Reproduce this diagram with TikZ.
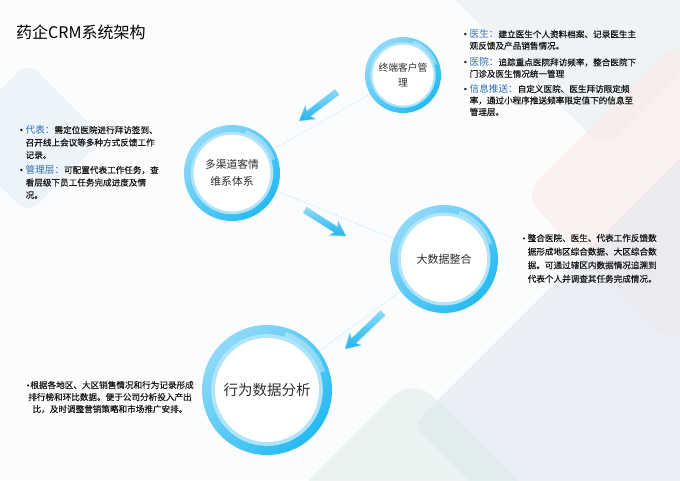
\documentclass[tikz,border=0pt]{standalone}
\usepackage{fontspec}
\setmainfont{Noto Sans CJK SC}
\newfontfamily\crmbodyf[FakeBold=0.35]{Noto Sans CJK SC}
\newfontfamily\crmdejavu{DejaVu Sans}
\usepackage{array}
\usetikzlibrary{calc}
\definecolor{bgbase}{HTML}{FBFCFE}
\definecolor{bgblue}{HTML}{DFECF8}
\definecolor{bgteal}{HTML}{DBEAE8}
\definecolor{bgpink}{HTML}{FDE8E6}
\definecolor{bggray}{HTML}{E5ECEE}
\definecolor{bgslate}{HTML}{D9E4EE}
\definecolor{ringL}{HTML}{8FD9F8}
\definecolor{ringD}{HTML}{25BAF1}
\definecolor{ringIn}{HTML}{AFE4FA}
\definecolor{lblue}{HTML}{2E6DB4}
\definecolor{bodyc}{HTML}{161616}
\definecolor{ctextc}{HTML}{2E2E2E}
\definecolor{dotc}{HTML}{A4DDF5}
\definecolor{arrL}{HTML}{8ED9F8}
\definecolor{arrD}{HTML}{22B5EE}

\newcommand\crmbul{\makebox[6.5pt][l]{{\crmdejavu\fontsize{8}{8}\selectfont •}}}
\newcommand\crmlbl[1]{{\rmfamily\fontsize{9.6}{11}\selectfont\color{lblue}#1}}
\newcommand\crmring[2]{%
  \shade[top color=ringL, bottom color=ringD, shading angle=45] (#1) circle[radius=#2pt];
  \fill[ringIn] (#1) circle[radius=0.86*#2pt];
  \fill[white] (#1) circle[radius=0.8*#2pt];
  \draw[white, opacity=0.35, line width=0.08*#2pt] ([shift={(72:0.9*#2pt)}]#1) arc[start angle=72, end angle=18, radius=0.9*#2pt];
}
\newcommand\crmarrow[3]{%
  \begin{scope}[shift={#1}, rotate=#2]
    \shade[top color=arrL, bottom color=arrD, draw=arrL, line width=0.3pt]
      (0pt,3.3pt) -- ({#3pt-12pt},3.3pt) -- ({#3pt-14.5pt},8.5pt) -- (#3pt,0pt)
      -- ({#3pt-14.5pt},-8.5pt) -- ({#3pt-12pt},-3.3pt) -- (0pt,-3.3pt) -- cycle;
  \end{scope}}

\begin{document}
\begin{tikzpicture}[x=1pt,y=-1pt,
  blk/.style={inner sep=0pt, text=bodyc},
  ctext/.style={circle, inner sep=0pt, align=center, text=ctextc},
  dotl/.style={draw=dotc, line width=0.6pt, dash pattern=on 0.8pt off 1.2pt}]
\useasboundingbox (0,0) rectangle (680,480);
\fill[bgbase] (0,0) rectangle (680,480);
\begin{scope}
  \clip (0,0) rectangle (680,480);
  \fill[bgblue, opacity=0.5, rounded corners=14pt] (28,62) -- (104,138) -- (28,214) -- (-48,138) -- cycle;
  \fill[bggray, opacity=0.5, rounded corners=20pt] (605,150) -- (435,-20) -- (775,-20) -- cycle;
  \fill[bgpink, opacity=0.5, rounded corners=22pt] (523,195) -- (678,40) -- (830,192) -- (668,345) -- cycle;
  \fill[bgslate, opacity=0.5, rounded corners=12pt] (413,425) -- (713,125) -- (1013,425) -- (713,725) -- cycle;
  \fill[bgteal, opacity=0.5, rounded corners=30pt] (413,376) -- (546,509) -- (280,509) -- cycle;
\end{scope}

% title
\node[anchor=west, inner sep=0pt, font=\fontsize{16}{16}\selectfont, text=black] (title) at (16,32) {药企CRM系统架构};

% rings
\coordinate (c1) at (403,75);
\coordinate (c2) at (232,173);
\coordinate (c3) at (444,259);
\coordinate (c4) at (267,390);
\crmring{c1}{38}
\crmring{c2}{48}
\crmring{c3}{54}
\crmring{c4}{65}

\node[ctext, minimum size=76pt, font=\fontsize{9.8}{15}\selectfont] (n1) at (c1) {终端客户管\\理};
\node[ctext, minimum size=96pt, font=\fontsize{10.8}{17}\selectfont] (n2) at (c2) {多渠道客情\\维系体系};
\node[ctext, minimum size=108pt, font=\fontsize{11}{13}\selectfont] (n3) at (c3) {大数据整合};
\node[ctext, minimum size=130pt, font=\fontsize{14.5}{16}\selectfont] (n4) at (c4) {行为数据分析};

% dotted connectors
\draw[dotl] (n1) -- (n2);
\draw[dotl] (n2) -- (n3);
\draw[dotl] (n3) -- (n4);

% block arrows
\crmarrow{(337,92)}{217.4}{47.8}
\crmarrow{(305,210)}{-32.4}{48.5}
\crmarrow{(383,313)}{223.5}{52.3}

% text blocks
\node[blk, anchor=base west, font=\crmbodyf\fontsize{8.6}{11.5}\selectfont] (t1) at (463,37.5) {%
\begin{tabular}[t]{@{}l@{}l@{}}
\crmbul & \crmlbl{医生：}建立医生个人资料档案、记录医生主\\
 & 观反馈及产品销售情况。\\[5pt]
\crmbul & \crmlbl{医院：}追踪重点医院拜访频率，整合医院下\\
 & 门诊及医生情况统一管理\\[3.5pt]
\crmbul & \crmlbl{信息推送：}自定义医院、医生拜访限定频\\
 & 率，通过小程序推送频率限定值下的信息至\\
 & 管理层。
\end{tabular}};

\node[blk, anchor=base west, font=\crmbodyf\fontsize{8.6}{12.5}\selectfont] (t2) at (19,133.3) {%
\begin{tabular}[t]{@{}l@{}l@{}}
\crmbul & \crmlbl{代表：}需定位医院进行拜访签到、\\
 & 召开线上会议等多种方式反馈工作\\
 & 记录。\\[2.5pt]
\crmbul & \crmlbl{管理层：}可配置代表工作任务，查\\
 & 看层级下员工任务完成进度及情\\
 & 况。
\end{tabular}};

\node[blk, anchor=base west, font=\crmbodyf\fontsize{8.6}{13.6}\selectfont] (t3) at (522,241.3) {%
\begin{tabular}[t]{@{}l@{}l@{}}
\makebox[5.5pt][l]{{\crmdejavu\fontsize{7}{7}\selectfont •}} & 整合医院、医生、代表工作反馈数\\
 & 据形成地区综合数据、大区综合数\\
 & 据。可通过辖区内数据情况追溯到\\
 & 代表个人并调查其任务完成情况。
\end{tabular}};

\node[blk, anchor=base, font=\crmbodyf\fontsize{8.6}{12}\selectfont] (t4) at (110,388.3) {%
\begin{tabular}[t]{@{}c@{}}
{\crmdejavu\fontsize{7}{7}\selectfont •}根据各地区、大区销售情况和行为记录形成\\
排行榜和环比数据。便于公司分析投入产出\\
比，及时调整营销策略和市场推广安排。
\end{tabular}};
\end{tikzpicture}
\end{document}
